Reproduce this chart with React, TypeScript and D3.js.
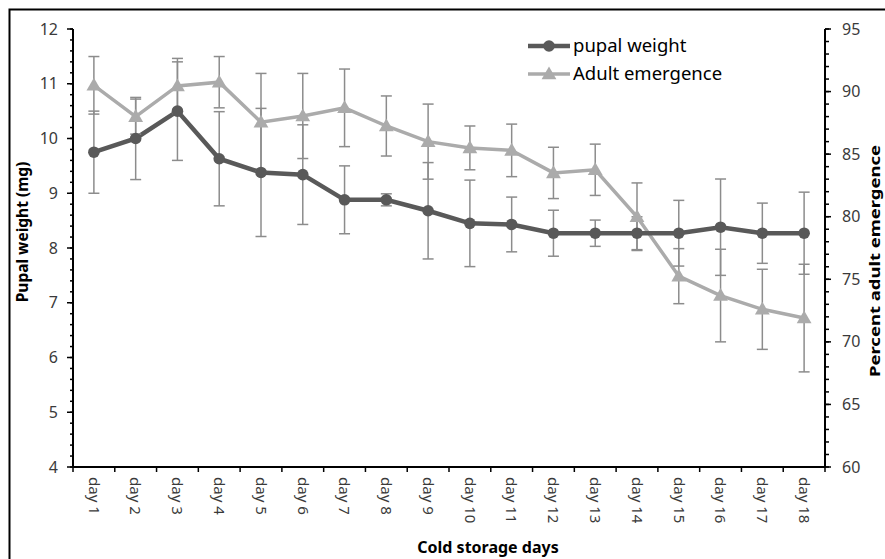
import React from 'react';
import * as d3 from 'd3';

const days = ['day 1', 'day 2', 'day 3', 'day 4', 'day 5', 'day 6', 'day 7', 'day 8', 'day 9',
  'day 10', 'day 11', 'day 12', 'day 13', 'day 14', 'day 15', 'day 16', 'day 17', 'day 18'];

// left axis, mg
const pupalWeight = [9.75, 10.0, 10.5, 9.63, 9.38, 9.34, 8.88, 8.88, 8.68, 8.45, 8.43, 8.27, 8.27, 8.27, 8.27, 8.38, 8.27, 8.27];
const pupalErr = [0.75, 0.75, 0.9, 0.86, 1.17, 0.91, 0.62, 0.11, 0.88, 0.79, 0.5, 0.42, 0.24, 0.3, 0.6, 0.88, 0.55, 0.75];

// right axis, percent
const adultEmergence = [90.5, 88.0, 90.45, 90.75, 87.55, 88.05, 88.7, 87.25, 86.0, 85.5, 85.3, 83.5, 83.75, 80.0, 75.25, 73.7, 72.6, 71.9];
const adultErr = [2.3, 1.4, 2.2, 2.05, 3.9, 3.4, 3.1, 2.4, 3.0, 1.75, 2.1, 2.05, 2.05, 2.7, 2.2, 3.7, 3.2, 4.3];

const leftTicks = [4, 5, 6, 7, 8, 9, 10, 11, 12];
const rightTicks = [60, 65, 70, 75, 80, 85, 90, 95];

const W = 885;
const H = 559;
const font = '"Noto Sans", "Open Sans", sans-serif';
const darkGray = '#595959';
const lightGray = '#ababab';
const errColor = '#8c8c8c';
const labelColor = '#3a3a3a';

const App = () => {
  const x = d3.scaleBand().domain(days).range([73, 825]);
  const yL = d3.scaleLinear().domain([4, 12]).range([467, 29]);
  const yR = d3.scaleLinear().domain([60, 95]).range([467, 29]);
  const cx = (d: string) => (x(d) as number) + x.bandwidth() / 2;

  const pupalLine = d3.line<number>().x((_, i) => cx(days[i])).y(d => yL(d));
  const adultLine = d3.line<number>().x((_, i) => cx(days[i])).y(d => yR(d));
  const tri = d3.symbol().type(d3.symbolTriangle).size(95)();

  const leftMinor = d3.range(40, 121, 2).map(v => v / 10);
  const rightMinor = d3.range(60, 96, 1);
  const xTicks = days.map(d => x(d) as number).concat([825]);

  const cap = 5.5;

  return (
    <div style={{ position: 'fixed', left: 0, top: 0 }}>
      <svg width={W} height={H} style={{ display: 'block', background: '#fff' }} fontFamily={font}>
        <rect x={9.5} y={9.5} width={W + 10} height={H + 10} fill="#fff" stroke="#000" strokeWidth={2} />

        {/* left axis */}
        <line x1={73} x2={73} y1={yL(12)} y2={yL(4)} stroke="#000" strokeWidth={2} />
        {leftMinor.map(v => (
          <line key={'lm' + v} x1={70} x2={73} y1={yL(v)} y2={yL(v)} stroke="#000" strokeWidth={1.5} />
        ))}
        {leftTicks.map(v => (
          <g key={'lt' + v}>
            <line x1={67} x2={73} y1={yL(v)} y2={yL(v)} stroke="#000" strokeWidth={1.5} />
            <text x={58} y={yL(v)} dy="0.35em" textAnchor="end" fontSize={16} fill={labelColor}>{v}</text>
          </g>
        ))}

        {/* right axis */}
        <line x1={825} x2={825} y1={yR(95)} y2={yR(60)} stroke="#000" strokeWidth={2} />
        {rightMinor.map(v => (
          <line key={'rm' + v} x1={825} x2={829} y1={yR(v)} y2={yR(v)} stroke="#000" strokeWidth={1.5} />
        ))}
        {rightTicks.map(v => (
          <g key={'rt' + v}>
            <line x1={825} x2={831} y1={yR(v)} y2={yR(v)} stroke="#000" strokeWidth={1.5} />
            <text x={842} y={yR(v)} dy="0.35em" textAnchor="start" fontSize={16} fill={labelColor}>{v}</text>
          </g>
        ))}

        {/* x axis */}
        <line x1={73} x2={825} y1={467} y2={467} stroke="#000" strokeWidth={2} />
        {xTicks.map((t, i) => (
          <line key={'xt' + i} x1={t} x2={t} y1={467} y2={472} stroke="#000" strokeWidth={1.5} />
        ))}
        {days.map(d => (
          <text key={'xl' + d} transform={`translate(${cx(d)},477) rotate(90)`} dy="0.35em"
            textAnchor="start" fontSize={15} fill={labelColor}>{d}</text>
        ))}

        {/* axis titles */}
        <text transform="translate(28,232) rotate(-90)" textAnchor="middle" fontSize={15.5}
          fontWeight="bold" fill="#000">Pupal weight (mg)</text>
        <text transform="translate(880,261) rotate(-90)" textAnchor="middle" fontSize={15}
          fontWeight="bold" fill="#000" textLength={232} lengthAdjust="spacingAndGlyphs">Percent adult emergence</text>
        <text x={488} y={553} textAnchor="middle" fontSize={16} fontWeight="bold" fill="#000">Cold storage days</text>

        {/* adult emergence series */}
        <path d={adultLine(adultEmergence) || ''} fill="none" stroke={lightGray} strokeWidth={3.5} />
        {/* pupal weight series */}
        <path d={pupalLine(pupalWeight) || ''} fill="none" stroke={darkGray} strokeWidth={4.5} />

        {/* error bars */}
        {adultEmergence.map((v, i) => {
          const px = cx(days[i]);
          const top = yR(v + adultErr[i]);
          const bot = yR(v - adultErr[i]);
          return (
            <g key={'ae' + i} stroke={errColor} strokeWidth={1.5}>
              <line x1={px} x2={px} y1={top} y2={bot} />
              <line x1={px - cap} x2={px + cap} y1={top} y2={top} />
              <line x1={px - cap} x2={px + cap} y1={bot} y2={bot} />
            </g>
          );
        })}
        {pupalWeight.map((v, i) => {
          const px = cx(days[i]);
          const top = yL(v + pupalErr[i]);
          const bot = yL(v - pupalErr[i]);
          return (
            <g key={'pe' + i} stroke={errColor} strokeWidth={1.5}>
              <line x1={px} x2={px} y1={top} y2={bot} />
              <line x1={px - cap} x2={px + cap} y1={top} y2={top} />
              <line x1={px - cap} x2={px + cap} y1={bot} y2={bot} />
            </g>
          );
        })}

        {/* markers */}
        {adultEmergence.map((v, i) => (
          <path key={'am' + i} d={tri || ''} transform={`translate(${cx(days[i])},${yR(v) + 1})`} fill={lightGray} />
        ))}
        {pupalWeight.map((v, i) => (
          <circle key={'pm' + i} cx={cx(days[i])} cy={yL(v)} r={5.8} fill={darkGray} />
        ))}

        {/* legend */}
        <g>
          <line x1={528} x2={570} y1={46} y2={46} stroke={darkGray} strokeWidth={4.5} />
          <circle cx={549} cy={46} r={5.8} fill={darkGray} />
          <text x={573} y={46} dy="0.35em" fontSize={18.5} fill="#000">pupal weight</text>
          <line x1={528} x2={570} y1={74} y2={74} stroke={lightGray} strokeWidth={3.5} />
          <path d={tri || ''} transform="translate(549,75)" fill={lightGray} />
          <text x={573} y={74} dy="0.35em" fontSize={18.5} fill="#000">Adult emergence</text>
        </g>
      </svg>
    </div>
  );
};

export default App;
